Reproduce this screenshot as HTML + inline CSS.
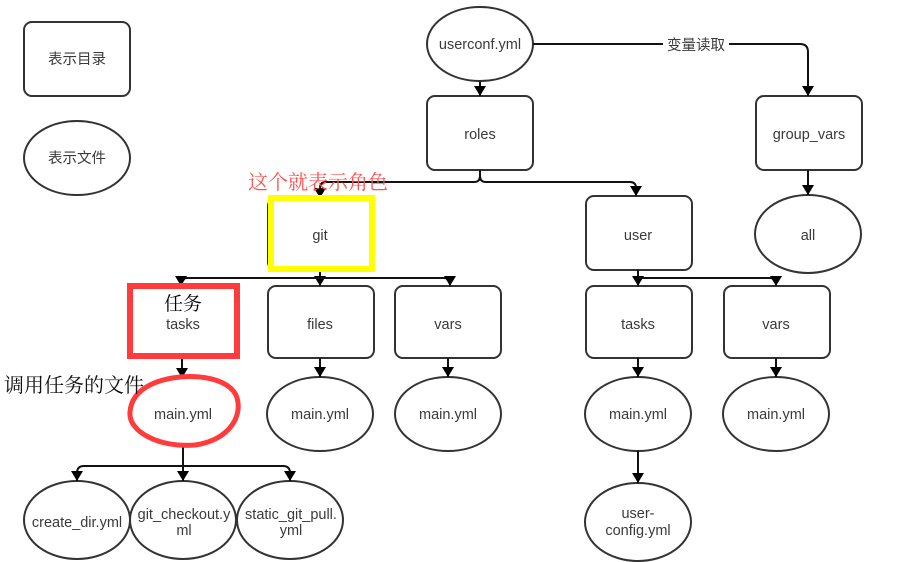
<!DOCTYPE html>
<html><head><meta charset="utf-8"><style>
html,body{margin:0;padding:0;background:#fff;}
svg{display:block;}
text{font-family:"Liberation Sans","Noto Sans CJK SC",sans-serif;font-size:14.5px;fill:#3a3a3a;text-anchor:middle;}
.cn{font-family:"Liberation Serif","Noto Serif CJK SC",serif;}
</style></head><body>
<svg width="897" height="562" viewBox="0 0 897 562" xmlns="http://www.w3.org/2000/svg">
<defs>
<marker id="d" viewBox="0 0 12 10" markerWidth="12" markerHeight="10" refX="6" refY="10" markerUnits="userSpaceOnUse"><path d="M0,0 L12,0 L6,10 Z" fill="#000"/></marker></defs>
<g fill="none" stroke="#333" stroke-width="2">
<rect x="24" y="22" width="106" height="74" rx="8"/>
<ellipse cx="77" cy="158" rx="53" ry="37"/>
<ellipse cx="480" cy="44" rx="53" ry="37"/>
<rect x="427" y="96" width="106" height="74" rx="8"/>
<rect x="756" y="96" width="106" height="74" rx="8"/>
<ellipse cx="808" cy="234" rx="53" ry="39"/>
<rect x="268" y="198" width="106" height="72" rx="8"/>
<rect x="586" y="196" width="106" height="74" rx="8"/>
<rect x="268" y="286" width="106" height="72" rx="8"/>
<rect x="395" y="286" width="106" height="72" rx="8"/>
<rect x="586" y="286" width="106" height="72" rx="8"/>
<rect x="724" y="286" width="106" height="72" rx="8"/>
<ellipse cx="320" cy="414" rx="53" ry="37"/>
<ellipse cx="448" cy="414" rx="53" ry="37"/>
<ellipse cx="638" cy="414" rx="53" ry="37"/>
<ellipse cx="776" cy="414" rx="53" ry="37"/>
<ellipse cx="638" cy="522" rx="53" ry="39"/>
<ellipse cx="77" cy="520" rx="53" ry="39"/>
<ellipse cx="183" cy="520" rx="53" ry="39"/>
<ellipse cx="290" cy="520" rx="53" ry="39"/>
</g>
<g fill="none" stroke="#111" stroke-width="2">
<path d="M480,81 V96" marker-end="url(#d)"/>
<path d="M533,44 H800 Q808,44 808,52 V96" marker-end="url(#d)"/>
<path d="M808,170 V195" marker-end="url(#d)"/>
<path d="M480,170 V176 Q480,182 474,182 H326 Q320,182 320,188 V198" marker-end="url(#d)"/>
<path d="M480,170 V176 Q480,182 486,182 H630 Q636,182 636,188 V196" marker-end="url(#d)"/>
<path d="M320,270 V286" marker-end="url(#d)"/>
<path d="M320,278 H187 Q181,278 181,284 V286" marker-end="url(#d)"/>
<path d="M320,278 H444 Q450,278 450,284 V286" marker-end="url(#d)"/>
<path d="M638,270 V286" marker-end="url(#d)"/>
<path d="M638,278 H770 Q776,278 776,284 V286" marker-end="url(#d)"/>
<path d="M182,358 V378" marker-end="url(#d)"/>
<path d="M320,358 V377" marker-end="url(#d)"/>
<path d="M448,358 V377" marker-end="url(#d)"/>
<path d="M638,358 V377" marker-end="url(#d)"/>
<path d="M776,358 V377" marker-end="url(#d)"/>
<path d="M638,451 V483" marker-end="url(#d)"/>
<path d="M183,446 V481" marker-end="url(#d)"/>
<path d="M183,466 H84 Q77,466 77,473 V481" marker-end="url(#d)"/>
<path d="M183,466 H283 Q290,466 290,473 V481" marker-end="url(#d)"/>
</g>
<rect x="663" y="34" width="66" height="20" fill="#fff"/>
<text x="696" y="50">变量读取</text>
<rect x="271" y="198" width="101" height="71" fill="none" stroke="#ffff00" stroke-width="6"/>
<rect x="130" y="286" width="107" height="70" fill="none" stroke="#ff3b3b" stroke-width="6"/>
<path d="M150,385 C175,372 225,373 236,395 C244,415 230,440 195,445 C160,448 128,432 130,412 C131,398 140,390 150,385 Z" fill="none" stroke="#ff3b3b" stroke-width="5"/>
<text x="77" y="64">表示目录</text>
<text x="77" y="163">表示文件</text>
<text x="480" y="49">userconf.yml</text>
<text x="480" y="139">roles</text>
<text x="809" y="139">group_vars</text>
<text x="808" y="240">all</text>
<text x="320" y="240">git</text>
<text x="638" y="240">user</text>
<text x="183" y="329">tasks</text>
<text class="cn" x="183" y="310" style="font-size:19px;fill:#000">任务</text>
<text x="320" y="329">files</text>
<text x="448" y="329">vars</text>
<text x="638" y="329">tasks</text>
<text x="776" y="329">vars</text>
<text x="183" y="419">main.yml</text>
<text x="320" y="419">main.yml</text>
<text x="448" y="419">main.yml</text>
<text x="638" y="419">main.yml</text>
<text x="776" y="419">main.yml</text>
<text x="638" y="518">user-</text>
<text x="638" y="535">config.yml</text>
<text x="77" y="527">create_dir.yml</text>
<text x="184" y="519">git_checkout.y</text>
<text x="184" y="535">ml</text>
<text x="291" y="519">static_git_pull.</text>
<text x="291" y="535">yml</text>
<text class="cn" x="248" y="189" style="font-size:20px;fill:#ff5050;text-anchor:start">这个就表示角色</text>
<text class="cn" x="4" y="392" style="font-size:20px;fill:#111;text-anchor:start">调用任务的文件</text>
</svg>
</body></html>
